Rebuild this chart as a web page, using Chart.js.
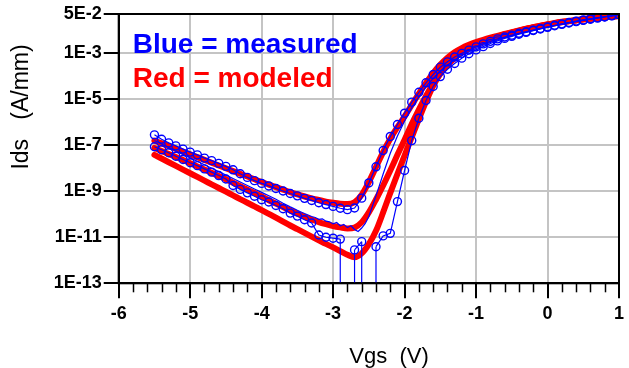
<!DOCTYPE html>
<html>
<head>
<meta charset="utf-8">
<script src="https://cdn.jsdelivr.net/npm/chart.js@4"></script>
<style>
  html, body { margin: 0; padding: 0; background: #fff; }
</style>
</head>
<body>
<canvas id="myChart" width="629" height="368"></canvas>
<script>
// Vgs grid (V) of the measured and modeled sweeps
var vgs = [-5.5, -5.4, -5.3, -5.2, -5.1, -5.0, -4.9, -4.8, -4.7, -4.6, -4.5, -4.4, -4.3, -4.2, -4.1, -4.0,
  -3.9, -3.8, -3.7, -3.6, -3.5, -3.4, -3.3, -3.2, -3.1, -3.0, -2.9, -2.8, -2.7, -2.6, -2.5, -2.4, -2.3,
  -2.2, -2.1, -2.0, -1.9, -1.8, -1.7, -1.6, -1.5, -1.4, -1.3, -1.2, -1.1, -1.0, -0.9, -0.8, -0.7, -0.6,
  -0.5, -0.4, -0.3, -0.2, -0.1, 0.0, 0.1, 0.2, 0.3, 0.4, 0.5, 0.6, 0.7, 0.8, 0.9, 1.0];

// log10(Ids); null = current not positive
var measured1 = [-6.55, -6.74, -6.90, -7.03, -7.17, -7.30, -7.42, -7.56, -7.67, -7.79, -7.92, -8.07, -8.24, -8.40, -8.54, -8.66,
  -8.77, -8.88, -8.99, -9.10, -9.20, -9.31, -9.40, -9.50, -9.58, -9.66, -9.74, -9.80, -9.73, -9.30, -8.64, -7.94, -7.23,
  -6.62, -6.10, -5.61, -5.13, -4.70, -4.29, -3.93, -3.61, -3.38, -3.17, -3.01, -2.87, -2.73, -2.60, -2.49, -2.38, -2.30,
  -2.22, -2.14, -2.07, -2.00, -1.93, -1.86, -1.79, -1.73, -1.67, -1.61, -1.56, -1.51, -1.46, -1.42, -1.37, -1.33];

var measured3 = [-7.07, -7.20, -7.33, -7.48, -7.62, -7.76, -7.89, -8.03, -8.17, -8.32, -8.47, -8.75, -8.92, -9.07, -9.22, -9.37,
  -9.47, -9.62, -9.76, -9.95, -10.08, -10.24, -10.38, -10.90, -11.00, -11.04, -11.08, null, -11.55, -11.19, null, -11.41, -10.94,
  -10.83, -9.45, -8.10, -6.80, -5.83, -5.06, -4.45, -4.02, -3.70, -3.45, -3.22, -3.03, -2.86, -2.72, -2.58, -2.47, -2.36,
  -2.27, -2.18, -2.10, -2.02, -1.95, -1.88, -1.81, -1.75, -1.69, -1.63, -1.58, -1.53, -1.48, -1.43, -1.38, -1.33];

// the middle measured sweep has a finer step around its minimum
var vgs2 = [-5.5, -5.4, -5.3, -5.2, -5.1, -5.0, -4.9, -4.8, -4.7, -4.6, -4.5, -4.4, -4.3, -4.2, -4.1, -4.0,
  -3.9, -3.8, -3.7, -3.6, -3.5, -3.45, -3.4, -3.35, -3.3, -3.25, -3.2, -3.15, -3.1, -3.05, -3.0, -2.95,
  -2.9, -2.85, -2.8, -2.75, -2.7, -2.65, -2.6, -2.55, -2.5, -2.4, -2.3, -2.2, -2.1, -2.0, -1.9, -1.8,
  -1.7, -1.6, -1.5, -1.4, -1.3, -1.2, -1.1, -1.0, -0.9, -0.8, -0.7, -0.6, -0.5, -0.4, -0.3, -0.2, -0.1,
  0.0, 0.1, 0.2, 0.3, 0.4, 0.5, 0.6, 0.7, 0.8, 0.9, 1.0];
var measured2 = [-6.80, -6.95, -7.10, -7.25, -7.40, -7.55, -7.70, -7.85, -8.00, -8.15, -8.30, -8.45, -8.60, -8.75, -8.90, -9.05,
  -9.20, -9.35, -9.52, -9.68, -9.83, -9.90, -9.97, -10.03, -10.10, -10.14, -10.22, -10.20, -10.30, -10.33, -10.42, -10.36,
  -10.50, -10.44, -10.58, -10.50, -10.66, -10.75, -10.60, -10.40, -10.10, -9.20, -8.25, -7.35, -6.60, -5.95, -5.38, -4.90,
  -4.47, -4.10, -3.78, -3.52, -3.30, -3.11, -2.95, -2.80, -2.66, -2.54, -2.43, -2.33, -2.25, -2.16, -2.09, -2.01, -1.94,
  -1.87, -1.80, -1.74, -1.68, -1.62, -1.57, -1.52, -1.47, -1.42, -1.38, -1.33];

var modeled1 = [-6.80, -6.92, -7.04, -7.16, -7.28, -7.40, -7.52, -7.64, -7.76, -7.88, -8.00, -8.12, -8.24, -8.36, -8.48, -8.60,
  -8.71, -8.82, -8.93, -9.04, -9.14, -9.23, -9.31, -9.38, -9.45, -9.50, -9.54, -9.56, -9.48, -9.15, -8.60, -7.95, -7.30,
  -6.72, -6.22, -5.75, -5.25, -4.76, -4.30, -3.87, -3.50, -3.20, -2.96, -2.78, -2.64, -2.52, -2.42, -2.33, -2.25, -2.17,
  -2.09, -2.01, -1.94, -1.87, -1.81, -1.75, -1.69, -1.64, -1.60, -1.56, -1.52, -1.49, -1.46, -1.43, -1.40, -1.37];

var modeled2 = [-7.12, -7.25, -7.38, -7.51, -7.64, -7.78, -7.92, -8.06, -8.20, -8.34, -8.48, -8.63, -8.78, -8.93, -9.08, -9.23,
  -9.39, -9.54, -9.69, -9.84, -9.98, -10.11, -10.23, -10.34, -10.43, -10.51, -10.57, -10.62, -10.58, -10.35, -9.92, -9.36, -8.75,
  -8.10, -7.42, -6.76, -6.08, -5.45, -4.86, -4.32, -3.86, -3.48, -3.18, -2.94, -2.76, -2.61, -2.48, -2.37, -2.28, -2.19,
  -2.11, -2.03, -1.95, -1.88, -1.82, -1.76, -1.70, -1.65, -1.61, -1.57, -1.53, -1.50, -1.47, -1.44, -1.41, -1.38];

var modeled3 = [-7.42, -7.58, -7.74, -7.90, -8.06, -8.22, -8.38, -8.54, -8.70, -8.86, -9.02, -9.18, -9.34, -9.50, -9.66, -9.82,
  -9.98, -10.15, -10.32, -10.49, -10.65, -10.81, -10.97, -11.13, -11.29, -11.44, -11.60, -11.76, -11.87, -11.70, -11.30, -10.72, -9.92,
  -9.07, -8.25, -7.45, -6.65, -5.86, -5.10, -4.42, -3.90, -3.52, -3.22, -2.98, -2.79, -2.63, -2.50, -2.39, -2.29, -2.20,
  -2.12, -2.04, -1.96, -1.89, -1.83, -1.77, -1.71, -1.66, -1.62, -1.58, -1.54, -1.51, -1.48, -1.45, -1.42, -1.39];

var yTickValues = [1e-13, 1e-11, 1e-9, 1e-7, 1e-5, 1e-3, 5e-2];
var yTickLabels = ['1E-13', '1E-11', '1E-9', '1E-7', '1E-5', '1E-3', '5E-2'];
var xMin = -6, xMax = 1;

var blue = '#0000ff', red = '#ff0000';
var font = "'Liberation Sans', Arial, sans-serif";

function toPoints(xs, logs) {
  var pts = [];
  for (var i = 0; i < xs.length; i++) {
    pts.push({ x: xs[i], y: logs[i] === null ? null : Math.pow(10, logs[i]) });
  }
  return pts;
}

// vertical lines to the axis where the next/previous reading is not positive
function drops(xs, logs) {
  var pts = [];
  for (var i = 0; i < xs.length; i++) {
    if (logs[i] === null) continue;
    var gapBefore = i > 0 && logs[i - 1] === null;
    var gapAfter = i < xs.length - 1 && logs[i + 1] === null;
    if (gapBefore || gapAfter) {
      pts.push({ x: xs[i], y: yTickValues[0] }, { x: xs[i], y: Math.pow(10, logs[i]) }, { x: xs[i], y: null });
    }
  }
  return pts;
}

function measuredSet(data, markers) {
  return {
    data: data,
    borderColor: blue,
    borderWidth: 1.2,
    pointRadius: markers ? 4 : 0,
    pointBorderWidth: 1.4,
    pointBorderColor: blue,
    pointBackgroundColor: 'rgba(0,0,0,0)',
    tension: 0,
    order: 0
  };
}

function modeledSet(data) {
  return {
    data: data,
    borderColor: red,
    borderWidth: 6,
    pointRadius: 0,
    cubicInterpolationMode: 'monotone',
    borderJoinStyle: 'round',
    borderCapStyle: 'round',
    order: 1
  };
}

var framePlugin = {
  id: 'frame',
  afterDraw: function (chart) {
    var c = chart.ctx, a = chart.chartArea, xs = chart.scales.x, k, v, px;
    c.save();
    c.strokeStyle = '#000';
    c.lineWidth = 2;
    c.strokeRect(a.left, a.top, a.right - a.left, a.bottom - a.top);
    // minor ticks every 0.2 V
    c.lineWidth = 1.5;
    for (k = 0; k <= (xMax - xMin) * 5; k++) {
      if (k % 5 === 0) continue;
      v = xMin + k * 0.2;
      px = Math.round(xs.getPixelForValue(v)) + 0.5;
      c.beginPath();
      c.moveTo(px, a.bottom);
      c.lineTo(px, a.bottom + 9);
      c.stroke();
    }
    // legend texts
    c.font = 'bold 28px ' + font;
    c.textAlign = 'left';
    c.textBaseline = 'alphabetic';
    c.fillStyle = blue;
    c.fillText('Blue = measured', a.left + 14, 53);
    c.fillStyle = red;
    c.fillText('Red = modeled', a.left + 14, 87);
    // axis titles
    c.fillStyle = '#000';
    c.font = '22px ' + font;
    c.textAlign = 'center';
    c.textBaseline = 'middle';
    c.fillText('Vgs  (V)', 389, 357);
    c.font = '23px ' + font;
    c.translate(22, 107);
    c.rotate(-Math.PI / 2);
    c.fillText('Ids   (A/mm)', 0, 0);
    c.restore();
  }
};

var ctx = document.getElementById('myChart');
var myChart = new Chart(ctx, {
  type: 'line',
  data: {
    datasets: [
      measuredSet(toPoints(vgs, measured1), true),
      measuredSet(toPoints(vgs2, measured2), false),
      measuredSet(toPoints(vgs, measured3), true),
      measuredSet(drops(vgs, measured3), false),
      modeledSet(toPoints(vgs, modeled1)),
      modeledSet(toPoints(vgs, modeled2)),
      modeledSet(toPoints(vgs, modeled3))
    ]
  },
  options: {
    responsive: false,
    animation: false,
    layout: { padding: { top: 14, right: 9, left: 0, bottom: 0 } },
    plugins: { legend: { display: false }, tooltip: { enabled: false } },
    scales: {
      x: {
        type: 'linear',
        min: xMin,
        max: xMax,
        ticks: { stepSize: 1, autoSkip: false, color: '#000', padding: 5, font: { family: font, size: 18, weight: 'bold' } },
        grid: { color: '#c4c4c4', lineWidth: 2, tickColor: '#000', tickLength: 15, tickWidth: 2 },
        border: { color: '#000', width: 2 },
        afterFit: function (s) { s.height = 84.7; }
      },
      y: {
        type: 'logarithmic',
        min: yTickValues[0],
        max: yTickValues[yTickValues.length - 1],
        afterBuildTicks: function (s) {
          s.ticks = yTickValues.map(function (v) { return { value: v }; });
        },
        ticks: {
          autoSkip: false,
          color: '#000',
          padding: 2,
          font: { family: font, size: 18, weight: 'bold' },
          callback: function (value, index) { return yTickLabels[index]; }
        },
        grid: { color: '#c4c4c4', lineWidth: 2, tickColor: '#000', tickLength: 15, tickWidth: 2 },
        border: { color: '#000', width: 2 },
        afterFit: function (s) { s.width = 118.7; }
      }
    }
  },
  plugins: [framePlugin]
});
</script>
</body>
</html>
